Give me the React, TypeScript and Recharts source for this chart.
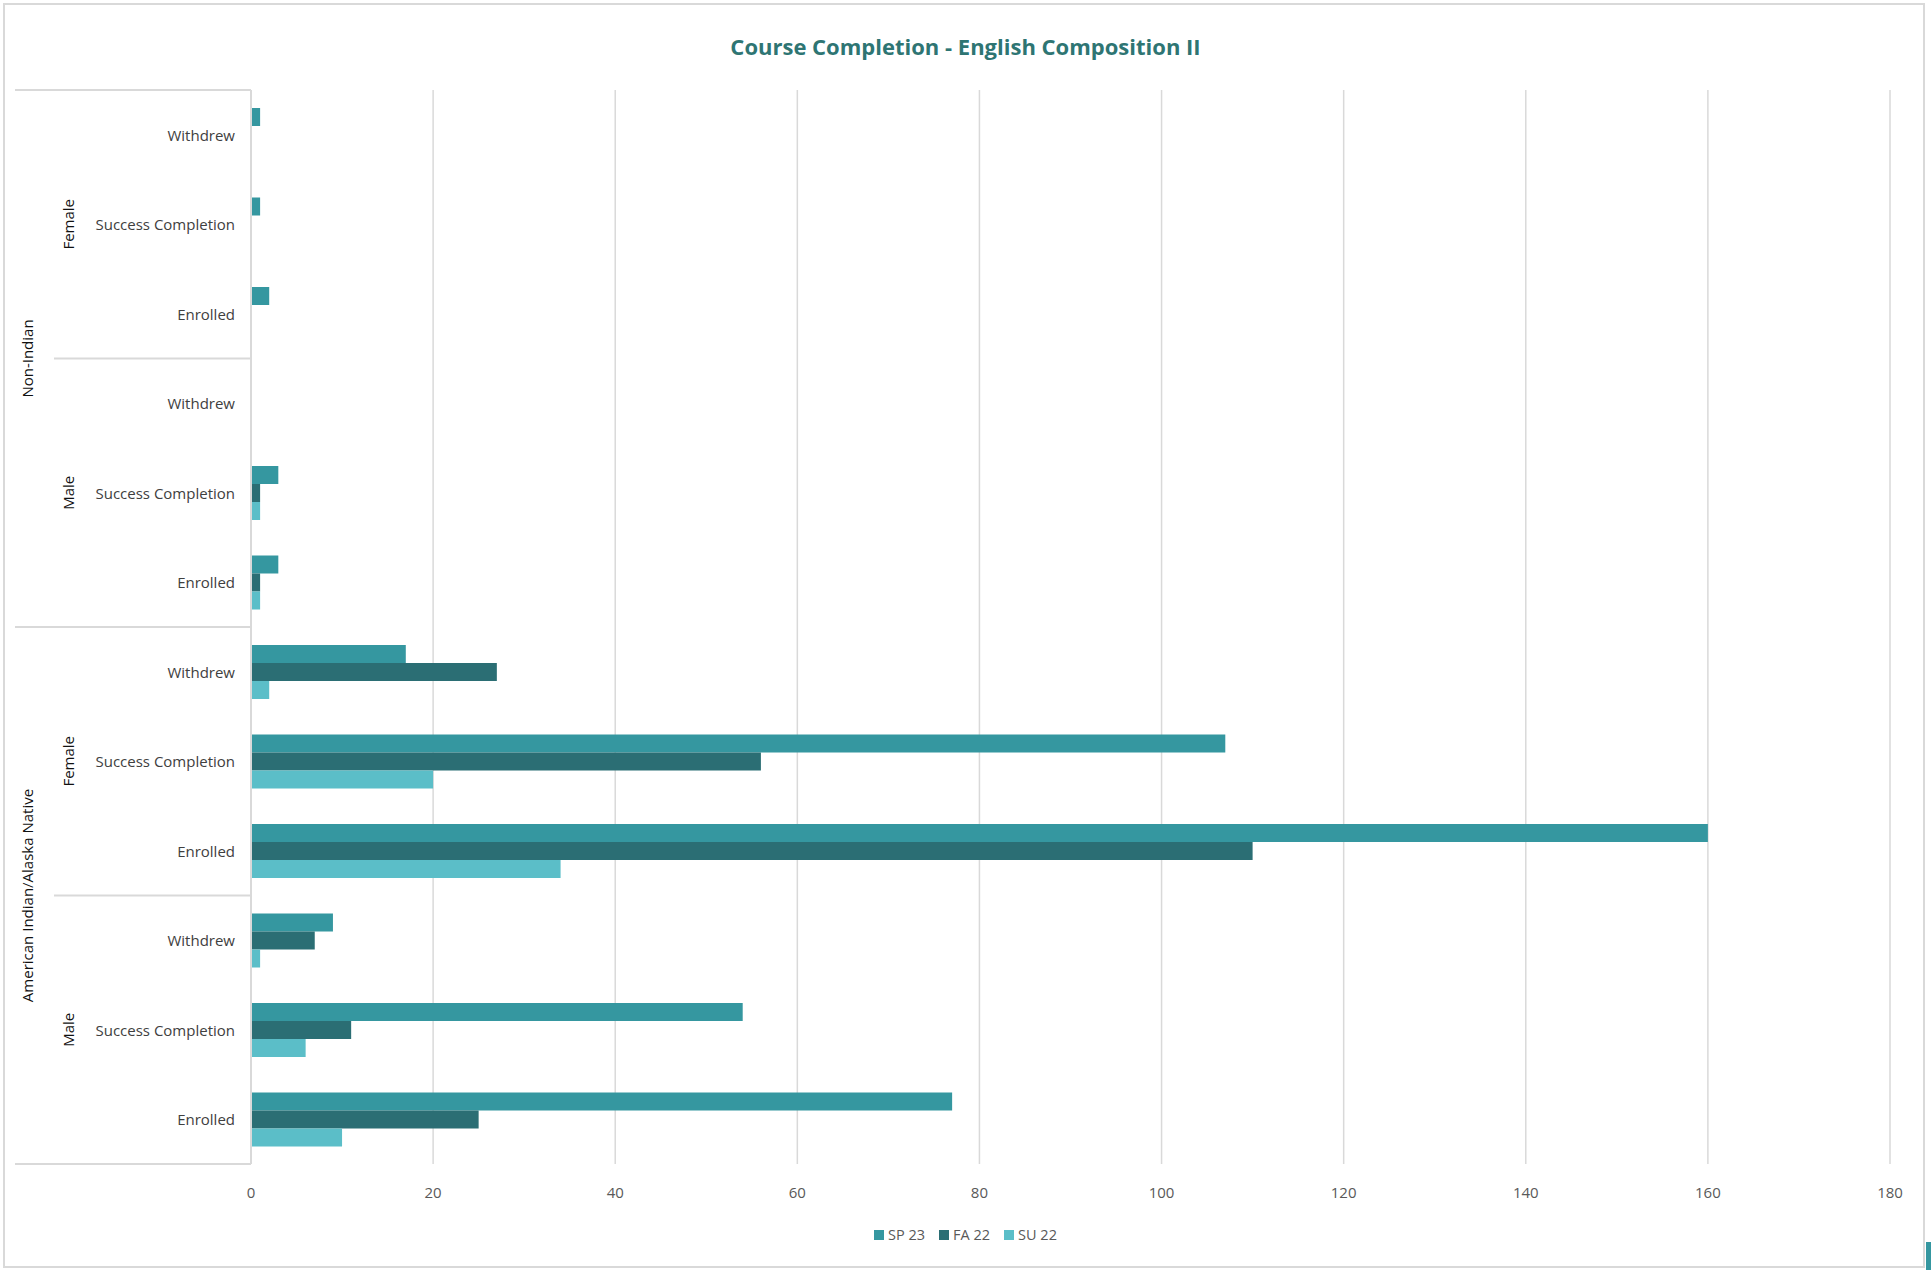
import { BarChart, Bar, XAxis, YAxis, CartesianGrid, Legend } from 'recharts';

// category levels, top to bottom as drawn
const ethnicities = ['Non-Indian', 'American Indian/Alaska Native'];
const genders = ['Female', 'Male'];
const outcomes = ['Withdrew', 'Success Completion', 'Enrolled'];

// series values, same row order (null = no bar)
const sp23 = [1, 1, 2, null, 3, 3, 17, 107, 160, 9, 54, 77];
const fa22 = [null, null, null, null, 1, 1, 27, 56, 110, 7, 11, 25];
const su22 = [null, null, null, null, 1, 1, 2, 20, 34, 1, 6, 10];

const xTicks = [0, 20, 40, 60, 80, 100, 120, 140, 160, 180];

const series = [
  { key: 'sp23', name: 'SP 23', color: '#3597A0' },
  { key: 'fa22', name: 'FA 22', color: '#2B6E74' },
  { key: 'su22', name: 'SU 22', color: '#5BBEC8' },
];

const rows = ethnicities.flatMap((eth) =>
  genders.flatMap((g) => outcomes.map((o) => ({ eth, gender: g, outcome: o }))),
).map((r, i) => ({ ...r, id: `${r.eth}|${r.gender}|${r.outcome}`, sp23: sp23[i], fa22: fa22[i], su22: su22[i] }));

const W = 1931;
const H = 1270;
const PLOT_TOP = 90;
const PLOT_BOTTOM = 1164;
const AXIS_X = 251;
const FONT = "'Open Sans', sans-serif";
const LINE = '#D9D9D9';

function CategoryTick(props: any) {
  const { y, index } = props;
  const row = rows[index];
  if (!row) return null;
  const band = (PLOT_BOTTOM - PLOT_TOP) / rows.length;
  return (
    <g>
      <text x={235} y={y} textAnchor="end" dominantBaseline="central" fontSize={15} fontFamily={FONT} fill="#404040">
        {row.outcome}
      </text>
      {index % 3 === 0 && (
        <>
          <line x1={index % 6 === 0 ? 15 : 54} x2={AXIS_X} y1={y - band / 2} y2={y - band / 2} stroke={LINE} strokeWidth={2} />
          <text
            x={68}
            y={y + band}
            transform={`rotate(-90 68 ${y + band})`}
            textAnchor="middle"
            dominantBaseline="central"
            fontSize={15}
            fontFamily={FONT}
            fill="#111"
          >
            {row.gender}
          </text>
        </>
      )}
      {index % 6 === 0 && (
        <text
          x={27}
          y={y + band * 2.5}
          transform={`rotate(-90 27 ${y + band * 2.5})`}
          textAnchor="middle"
          dominantBaseline="central"
          fontSize={15}
          fontFamily={FONT}
          fill="#111"
        >
          {row.eth}
        </text>
      )}
      {index === rows.length - 1 && (
        <line x1={15} x2={AXIS_X} y1={y + band / 2} y2={y + band / 2} stroke={LINE} strokeWidth={2} />
      )}
    </g>
  );
}

function LegendContent() {
  return (
    <div style={{ display: 'flex', justifyContent: 'center', gap: 14, fontFamily: FONT, fontSize: 14.5, color: '#595959', lineHeight: '20px' }}>
      {series.map((s) => (
        <div key={s.key} style={{ display: 'flex', alignItems: 'center', gap: 4 }}>
          <span style={{ width: 10, height: 10, background: s.color, display: 'inline-block' }} />
          <span>{s.name}</span>
        </div>
      ))}
    </div>
  );
}

export default function App() {
  return (
    <div style={{ position: 'absolute', left: 0, top: 0, width: W, height: H, background: '#fff', fontFamily: FONT }}>
      <div style={{ position: 'absolute', left: 3, top: 3, width: 1922, height: 1265, border: `2px solid ${LINE}`, boxSizing: 'border-box' }} />
      <div style={{ position: 'absolute', left: 1926, top: 1242, width: 5, height: 28, background: '#3597A0' }} />
      <div
        style={{
          position: 'absolute',
          top: 31,
          left: 0,
          width: W,
          textAlign: 'center',
          fontSize: 22,
          fontWeight: 700,
          color: '#2E7573',
          lineHeight: '30px',
        }}
      >
        Course Completion - English Composition II
      </div>
      <BarChart
        width={W}
        height={H}
        data={rows}
        layout="vertical"
        margin={{ top: PLOT_TOP, right: 41, bottom: 66, left: 0 }}
        barGap={0}
        barSize={18}
        style={{ position: 'absolute', left: 0, top: 0 }}
      >
        <CartesianGrid horizontal={false} stroke={LINE} strokeWidth={1.5} />
        <XAxis
          type="number"
          domain={[0, 180]}
          ticks={xTicks}
          axisLine={false}
          tickLine={false}
          tickMargin={17}
          height={40}
          tick={{ fontSize: 15, fill: '#595959', fontFamily: FONT }}
        />
        <YAxis
          type="category"
          dataKey="id"
          width={AXIS_X}
          interval={0}
          tickLine={false}
          axisLine={{ stroke: LINE, strokeWidth: 2 }}
          tick={(p: any) => <CategoryTick {...p} />}
        />
        <Legend verticalAlign="middle" align="center" layout="horizontal" wrapperStyle={{ top: 1225, left: 0, width: W }} content={() => <LegendContent />} />
        {series.map((s) => (
          <Bar key={s.key} dataKey={s.key} name={s.name} fill={s.color} isAnimationActive={false} />
        ))}
      </BarChart>
    </div>
  );
}
